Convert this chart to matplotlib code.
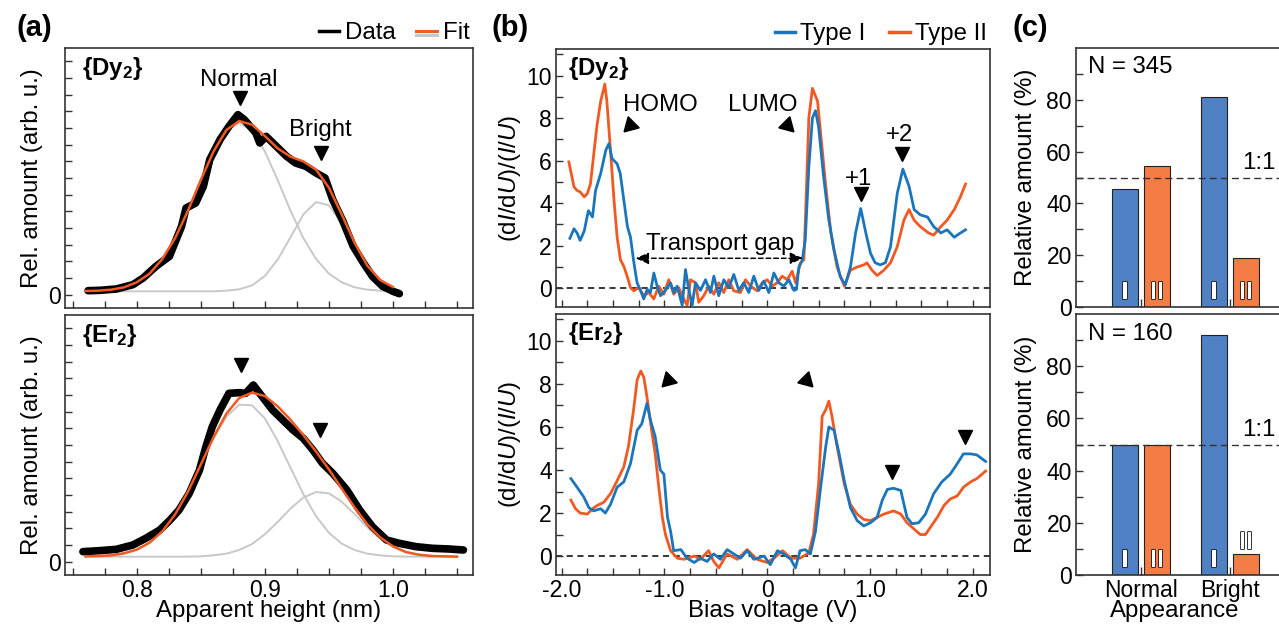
import matplotlib
matplotlib.use('Agg')
import matplotlib.pyplot as plt
import matplotlib.patheffects as pe
from matplotlib.lines import Line2D
from matplotlib.ticker import FixedLocator

plt.rcParams['font.family'] = ['Liberation Sans', 'DejaVu Sans']
plt.rcParams['mathtext.fontset'] = 'custom'
plt.rcParams['mathtext.rm'] = 'Liberation Sans'
plt.rcParams['mathtext.it'] = 'Liberation Sans:italic'
plt.rcParams['mathtext.bf'] = 'Liberation Sans:bold'
plt.rcParams['font.size'] = 17.3

# ---------- (a) height histograms ----------
dy_h = [0.762, 0.771, 0.784, 0.797, 0.805, 0.815, 0.8255, 0.835, 0.8385, 0.846,
        0.852, 0.857, 0.865, 0.872, 0.879, 0.884, 0.893, 0.896, 0.901, 0.909,
        0.917, 0.924, 0.932, 0.940, 0.947, 0.953, 0.961, 0.969, 0.977, 0.984,
        0.992, 1.000, 1.005]
dy_cnt = [0.12, 0.13, 0.17, 0.30, 0.5, 0.85, 1.15, 2.05, 2.6, 2.75,
          3.25, 4.05, 4.65, 5.05, 5.4, 5.25, 4.85, 4.55, 4.75, 4.45,
          4.15, 3.95, 3.85, 3.65, 3.5, 2.85, 2.2, 1.45, 0.95, 0.55,
          0.25, 0.1, 0.03]

er_h = [0.758, 0.771, 0.784, 0.797, 0.807, 0.818, 0.826, 0.833, 0.841, 0.849,
        0.854, 0.859, 0.865, 0.872, 0.880, 0.885, 0.891, 0.898, 0.906, 0.914,
        0.922, 0.930, 0.9375, 0.945, 0.953, 0.964, 0.974, 0.984, 0.995, 1.005,
        1.018, 1.031, 1.044, 1.055]
er_cnt = [0.3, 0.33, 0.37, 0.5, 0.7, 0.95, 1.25, 1.55, 2.05, 2.75,
          3.45, 4.05, 4.55, 5.05, 5.07, 5.05, 5.3, 4.95, 4.55, 4.25,
          3.95, 3.7, 3.35, 2.95, 2.65, 2.15, 1.55, 1.05, 0.65, 0.55,
          0.45, 0.4, 0.38, 0.35]

dy_fit_h = [0.76, 0.77, 0.78, 0.79, 0.80, 0.81, 0.82, 0.83, 0.84, 0.85,
            0.86, 0.87, 0.88, 0.89, 0.90, 0.91, 0.92, 0.93, 0.94, 0.95,
            0.96, 0.97, 0.98, 0.99, 1.00]
dy_normal = [0.11, 0.12, 0.15, 0.22, 0.37, 0.63, 1.07, 1.70, 2.52, 3.44,
             4.30, 4.92, 5.15, 4.92, 4.30, 3.44, 2.52, 1.70, 1.07, 0.63,
             0.37, 0.22, 0.15, 0.12, 0.11]
dy_bright = [0.10, 0.10, 0.10, 0.10, 0.10, 0.10, 0.10, 0.10, 0.10, 0.10,
             0.10, 0.12, 0.16, 0.28, 0.56, 1.05, 1.72, 2.40, 2.78, 2.68,
             2.14, 1.44, 0.82, 0.42, 0.22]
dy_fit = [0.11, 0.12, 0.15, 0.22, 0.37, 0.63, 1.07, 1.70, 2.52, 3.44,
          4.30, 4.94, 5.21, 5.10, 4.76, 4.39, 4.14, 4.00, 3.75, 3.21,
          2.41, 1.56, 0.87, 0.44, 0.23]

er_fit_h = [0.76, 0.77, 0.78, 0.79, 0.80, 0.81, 0.82, 0.83, 0.84, 0.85,
            0.86, 0.87, 0.88, 0.89, 0.90, 0.91, 0.92, 0.93, 0.94, 0.95,
            0.96, 0.97, 0.98, 0.99, 1.00, 1.01, 1.02, 1.03, 1.04, 1.05]
er_normal = [0.16, 0.17, 0.19, 0.25, 0.36, 0.57, 0.91, 1.42, 2.10, 2.90,
             3.70, 4.35, 4.71, 4.69, 4.30, 3.62, 2.82, 2.03, 1.36, 0.87,
             0.54, 0.35, 0.24, 0.19, 0.16, 0.15, 0.15, 0.15, 0.15, 0.15]
er_bright = [0.15, 0.15, 0.15, 0.15, 0.15, 0.15, 0.15, 0.15, 0.15, 0.16,
             0.19, 0.24, 0.35, 0.53, 0.82, 1.19, 1.59, 1.92, 2.09, 2.05,
             1.80, 1.43, 1.03, 0.69, 0.45, 0.29, 0.21, 0.17, 0.16, 0.15]
er_fit = [0.16, 0.17, 0.19, 0.25, 0.36, 0.57, 0.91, 1.42, 2.10, 2.91,
          3.74, 4.44, 4.91, 5.07, 4.97, 4.66, 4.26, 3.80, 3.30, 2.77,
          2.19, 1.63, 1.12, 0.73, 0.46, 0.29, 0.21, 0.17, 0.16, 0.15]

# ---------- (b) spectra ----------
dy_v_I = [-1.92, -1.88, -1.85, -1.82, -1.78, -1.74, -1.70, -1.67, -1.62, -1.57,
          -1.54, -1.51, -1.46, -1.43, -1.395, -1.36, -1.33, -1.30,
          -1.266, -1.233, -1.201, -1.168, -1.136, -1.103, -1.071, -1.038, -0.99, -0.941,
          -0.909, -0.876, -0.827, -0.795, -0.763, -0.73, -0.698, -0.649, -0.6, -0.552,
          -0.519, -0.471, -0.422, -0.374, -0.325, -0.276, -0.228, -0.179, -0.13, -0.082,
          -0.033, 0.016, 0.065, 0.113, 0.162, 0.211, 0.259, 0.285, 0.308,
          0.34, 0.37, 0.405, 0.44, 0.47, 0.50, 0.55, 0.60, 0.65, 0.71, 0.76, 0.81, 0.86,
          0.91, 0.96, 1.005, 1.05, 1.10, 1.15, 1.20, 1.265, 1.32, 1.38, 1.43, 1.49, 1.56,
          1.62, 1.69, 1.75, 1.82, 1.88, 1.93]
dy_s_I = [2.35, 2.8, 2.6, 2.25, 2.7, 3.65, 3.35, 4.6, 5.4, 6.5,
          6.8, 6.1, 5.85, 5.4, 4.15, 2.9, 2.4, 1.3,
          0.26, -0.1, -0.5, -0.05, -0.2, 0.72, 0.1, -0.35, -0.1, 0.26,
          -0.2, 0.1, -0.8, 0.88, -0.05, -0.8, 0.26, -0.1, 0.4, -0.2,
          0.57, -0.35, 0.4, 0.03, 0.65, -0.1, 0.26, -0.2, 0.57, -0.1,
          0.34, -0.2, 0.72, 0.26, 0.1, 0.4, -0.1, -0.05, 1.0,
          1.3, 2.25, 5.7, 8.0, 8.35, 7.6, 5.2, 3.2, 1.8, 0.55, 0.15, 1.0, 2.6,
          3.75, 2.6, 1.65, 1.2, 1.1, 1.2, 1.95, 4.45, 5.6, 4.8, 3.7, 3.45, 3.35,
          2.9, 2.6, 2.75, 2.4, 2.6, 2.75]

dy_v_II = [-1.93, -1.88, -1.85, -1.82, -1.78, -1.75, -1.72, -1.69, -1.655, -1.62,
           -1.58, -1.56, -1.525, -1.49,
           -1.46, -1.428, -1.395, -1.363, -1.33, -1.298, -1.25, -1.201, -1.152, -1.103,
           -1.055, -1.006, -0.958, -0.909, -0.86, -0.812, -0.779, -0.746, -0.698, -0.666,
           -0.617, -0.568, -0.519, -0.471, -0.422, -0.374, -0.325, -0.26, -0.211, -0.162,
           -0.097, -0.049, 0.0, 0.049, 0.097, 0.146, 0.195, 0.243, 0.276, 0.324, 0.357,
           0.373, 0.405, 0.44, 0.49, 0.52, 0.57, 0.62, 0.68, 0.75, 0.81, 0.875, 0.94,
           0.97, 1.02, 1.07, 1.135, 1.20, 1.265, 1.33, 1.38, 1.43, 1.49, 1.57, 1.62,
           1.69, 1.75, 1.82, 1.88, 1.93]
dy_s_II = [5.94, 4.77, 4.6, 4.53, 4.3, 4.45, 4.9, 6.2, 7.7, 8.8,
           9.6, 8.8, 6.5, 4.1,
           2.4, 1.34, 1.03, 0.57, 0.03, -0.12, 0.03, -0.35, -0.2, -0.5,
           0.1, -0.28, 0.4, -0.28, 0.03, -0.5, -0.8, 0.4, 0.26, -0.66,
           -0.35, 0.1, -0.28, 0.26, -0.2, 0.4, -0.12, -0.2, 0.4, 0.1,
           -0.12, 0.26, 0.4, 0.1, 0.26, 0.57, 0.4, 0.8, 0.26, 1.2, 1.34,
           3.4, 8.0, 9.4, 8.8, 7.3, 4.8, 2.6, 1.0, 0.1, 0.85, 1.0, 1.1,
           1.2, 0.85, 0.6, 0.85, 1.2, 1.95, 3.2, 3.7, 3.2, 2.9, 2.6, 2.5,
           2.9, 3.2, 3.7, 4.3, 4.9]

er_v_I = [-1.91, -1.85, -1.785, -1.735, -1.69, -1.62, -1.575, -1.525, -1.46, -1.395,
          -1.33, -1.265, -1.22, -1.17, -1.135, -1.09, -1.04, -1.005, -0.97, -0.94,
          -0.91, -0.84, -0.78, -0.71, -0.65, -0.585, -0.52, -0.455, -0.39, -0.325,
          -0.26, -0.195, -0.13, -0.03, 0.03, 0.10, 0.16, 0.23, 0.275, 0.32,
          0.37, 0.42, 0.47, 0.52, 0.57, 0.60, 0.65, 0.70, 0.75, 0.81,
          0.875, 0.94, 1.005, 1.07, 1.12, 1.17, 1.23, 1.30, 1.36, 1.41,
          1.475, 1.54, 1.62, 1.70, 1.78, 1.85, 1.91, 1.98, 2.04, 2.125]
er_s_I = [3.6, 3.2, 2.75, 2.25, 2.1, 2.2, 2.0, 2.4, 3.2, 3.45,
          4.3, 5.85, 6.15, 7.1, 6.3, 5.55, 4.0, 3.8, 1.8, 1.15,
          0.25, 0.3, -0.1, -0.3, -0.1, -0.25, 0.1, -0.15, 0.3, 0.1,
          -0.1, 0.25, -0.15, 0.0, -0.4, 0.25, 0.1, -0.15, -0.55, 0.25,
          0.3, 0.1, 1.15, 3.2, 5.1, 6.0, 5.85, 4.75, 3.5, 2.25,
          1.65, 1.4, 1.55, 1.8, 2.6, 3.1, 3.15, 3.05, 1.8, 1.5,
          1.55, 1.95, 2.9, 3.45, 3.8, 4.3, 4.75, 4.75, 4.7, 4.4]

er_v_II = [-1.91, -1.865, -1.82, -1.75, -1.70, -1.655, -1.59, -1.525, -1.46, -1.395,
           -1.35, -1.30, -1.265, -1.23, -1.20, -1.17, -1.12, -1.09, -1.055, -1.02,
           -0.99, -0.94, -0.875, -0.81, -0.71, -0.65, -0.57, -0.52, -0.47, -0.39,
           -0.29, -0.195, -0.10, 0.0, 0.065, 0.15, 0.23, 0.32, 0.405, 0.45,
           0.50, 0.535, 0.57, 0.60, 0.63, 0.68, 0.75, 0.81, 0.875, 0.94,
           1.005, 1.07, 1.135, 1.23, 1.30, 1.36, 1.43, 1.49, 1.54, 1.59,
           1.655, 1.72, 1.78, 1.85, 1.91, 1.98, 2.04, 2.125]
er_s_II = [2.6, 2.2, 2.0, 1.95, 2.2, 2.35, 2.5, 2.9, 3.5, 4.15,
           5.1, 6.8, 8.2, 8.6, 8.3, 7.4, 5.7, 4.75, 3.2, 1.8,
           1.0, 0.25, -0.1, -0.15, 0.0, -0.15, 0.25, -0.25, -0.55, 0.1,
           -0.15, 0.3, -0.15, -0.3, -0.1, 0.25, -0.1, -0.1, 0.15, 1.0,
           3.35, 6.5, 6.8, 7.2, 6.5, 5.1, 3.35, 2.4, 1.95, 1.7,
           1.65, 1.8, 1.95, 2.1, 1.95, 1.55, 1.25, 1.0, 1.0, 1.35,
           1.8, 2.35, 2.65, 2.8, 3.2, 3.45, 3.6, 3.95]

# ---------- (c) statistics ----------
appearance = ['Normal', 'Bright']
dy_type_I = [45.5, 81.2]
dy_type_II = [54.5, 18.8]
er_type_I = [50.0, 91.9]
er_type_II = [50.0, 8.1]
n_dy, n_er = 345, 160

BLUE = '#1b75bc'
ORANGE = '#f05a22'
BAR_BLUE = '#4f81c4'
BAR_ORANGE = '#f47c45'
GREY = '#c8c8c8'
SPINE = '#333333'
TICK_FS = 16.5

fig = plt.figure(figsize=(12.79, 6.25), dpi=100)


def box(l, t, r, b):
    return [l / 1279, 1 - b / 625, (r - l) / 1279, (b - t) / 625]


axa1 = fig.add_axes(box(65, 48, 473, 308))
axa2 = fig.add_axes(box(65, 315, 473, 575))
axb1 = fig.add_axes(box(556, 49, 990, 307))
axb2 = fig.add_axes(box(556, 314, 990, 575))
axc1 = fig.add_axes(box(1076, 48, 1283, 307))
axc2 = fig.add_axes(box(1076, 314, 1283, 575))


def style(ax):
    for s in ax.spines.values():
        s.set_color(SPINE)
        s.set_linewidth(1.2)
    ax.tick_params(which='both', direction='in', top=False, right=False,
                   width=1, color=SPINE, length=5, pad=3, labelsize=TICK_FS)


for ax in (axa1, axa2, axb1, axb2, axc1, axc2):
    style(ax)

# ---- panel (a)
for ax, h, c, fh, g1, g2, fit, name in (
        (axa1, dy_h, dy_cnt, dy_fit_h, dy_normal, dy_bright, dy_fit, 'Dy'),
        (axa2, er_h, er_cnt, er_fit_h, er_normal, er_bright, er_fit, 'Er')):
    ax.plot(fh, g1, color=GREY, lw=1.4)
    ax.plot(fh, g2, color=GREY, lw=1.4)
    ax.plot(h, c, color='black', lw=5.5, solid_capstyle='round', solid_joinstyle='round')
    ax.plot(fh, fit, color=ORANGE, lw=1.8)
    ax.set_xlim(0.744, 1.0625)
    ax.set_ylim(-0.4, 7.4)
    ax.xaxis.set_major_locator(FixedLocator([0.8, 0.9, 1.0]))
    ax.xaxis.set_minor_locator(FixedLocator([0.75, 0.775, 0.825, 0.85, 0.875, 0.925,
                                             0.95, 0.975, 1.025, 1.05]))
    ax.yaxis.set_major_locator(FixedLocator([0, 1, 2, 3, 4, 5, 6, 7]))
    ax.yaxis.set_minor_locator(FixedLocator([0.5, 1.5, 2.5, 3.5, 4.5, 5.5, 6.5]))
    ax.set_yticklabels(['0', '', '', '', '', '', '', ''])
    ax.set_ylabel('Rel. amount (arb. u.)')
    ax.yaxis.set_label_coords(-0.054, 0.5)
    ax.text(0.042, 0.923, '{%s$_\\mathbf{2}$}' % name, transform=ax.transAxes,
            fontweight='bold', ha='left', va='center')

axa1.tick_params(labelbottom=False)
axa2.set_xticklabels(['0.8', '0.9', '1.0'])
axa2.set_xlabel('Apparent height (nm)')
axa2.xaxis.set_label_coords(0.5, -0.095)

axa1.text(0.880, 6.45, 'Normal', ha='center', va='center')
axa1.plot(0.881, 5.9, marker='v', color='black', ms=9.5)
axa1.text(0.943, 4.95, 'Bright', ha='center', va='center')
axa1.plot(0.9435, 4.25, marker='v', color='black', ms=9.5)
axa2.plot(0.8815, 5.9, marker='v', color='black', ms=9.5)
axa2.plot(0.943, 3.95, marker='v', color='black', ms=9.5)

fit_handle = Line2D([], [], color=ORANGE, lw=2.2,
                    path_effects=[pe.SimpleLineShadow(offset=(0, -3), shadow_color=GREY, alpha=1),
                                  pe.Normal()])
axa1.legend([Line2D([], [], color='black', lw=2.5), fit_handle], ['Data', 'Fit'],
            loc='lower right', bbox_to_anchor=(1.0, 1.0), ncol=2, frameon=False,
            handlelength=0.85, handletextpad=0.25, columnspacing=0.85,
            borderaxespad=0.0, borderpad=0.15)

# ---- panel (b)
for ax, v1, s1, v2, s2, name in ((axb1, dy_v_I, dy_s_I, dy_v_II, dy_s_II, 'Dy'),
                                 (axb2, er_v_I, er_s_I, er_v_II, er_s_II, 'Er')):
    ax.axhline(0, color='black', lw=1.1, ls=(0, (4, 3)), zorder=1)
    ax.plot(v2, s2, color=ORANGE, lw=2, zorder=2)
    ax.plot(v1, s1, color=BLUE, lw=2, zorder=3)
    ax.set_xlim(-2.055, 2.168)
    ax.set_ylim(-0.88, 11.25)
    ax.xaxis.set_major_locator(FixedLocator([-2, -1, 0, 1, 2]))
    ax.xaxis.set_minor_locator(FixedLocator([-1.75, -1.5, -1.25, -0.75, -0.5, -0.25,
                                             0.25, 0.5, 0.75, 1.25, 1.5, 1.75]))
    ax.yaxis.set_major_locator(FixedLocator([0, 2, 4, 6, 8, 10]))
    ax.yaxis.set_minor_locator(FixedLocator([1, 3, 5, 7, 9, 11]))
    ax.set_ylabel(r'(d$\mathit{I}$/d$\mathit{U}$)/($\mathit{I}$/$\mathit{U}$)')
    ax.yaxis.set_label_coords(-0.076, 0.5)
    ax.text(0.028, 0.924, '{%s$_\\mathbf{2}$}' % name, transform=ax.transAxes,
            fontweight='bold', ha='left', va='center')

axb1.tick_params(labelbottom=False)
axb2.set_xticklabels(['-2.0', '-1.0', '0', '1.0', '2.0'])
axb2.set_xlabel('Bias voltage (V)')
axb2.xaxis.set_label_coords(0.5, -0.095)

axb1.text(-1.04, 8.64, 'HOMO', ha='center', va='center')
axb1.text(-0.04, 8.64, 'LUMO', ha='center', va='center')
axb1.plot(-1.337, 7.66, marker=(3, 0, 15), color='black', ms=13)
axb1.plot(0.195, 7.66, marker=(3, 0, -15), color='black', ms=13)
axb1.text(0.89, 5.16, '+1', ha='center', va='center')
axb1.plot(0.91, 4.45, marker='v', color='black', ms=9.5)
axb1.text(1.29, 7.19, '+2', ha='center', va='center')
axb1.plot(1.31, 6.33, marker='v', color='black', ms=9.5)
axb1.text(-0.454, 2.1, 'Transport gap', ha='center', va='center')
axb1.annotate('', xy=(-1.28, 1.41), xytext=(0.35, 1.41),
              arrowprops=dict(arrowstyle='<|-|>,head_length=0.45,head_width=0.2',
                              color='black', lw=1.1, ls=(0, (3, 2)),
                              shrinkA=0, shrinkB=0))

axb2.plot(-0.967, 8.2, marker=(3, 0, 15), color='black', ms=13)
axb2.plot(0.373, 8.2, marker=(3, 0, -15), color='black', ms=13)
axb2.plot(1.217, 3.9, marker='v', color='black', ms=9.5)
axb2.plot(1.92, 5.55, marker='v', color='black', ms=9.5)

axb1.legend([Line2D([], [], color=BLUE, lw=2.5), Line2D([], [], color=ORANGE, lw=2.5)],
            ['Type I', 'Type II'], loc='lower right', bbox_to_anchor=(1.0, 1.0), ncol=2,
            frameon=False, handlelength=0.85, handletextpad=0.2, columnspacing=1.0,
            borderaxespad=0.0, borderpad=0.15)

# ---- panel (c)
xpos = [0, 1]
for ax, t1, t2, n in ((axc1, dy_type_I, dy_type_II, n_dy), (axc2, er_type_I, er_type_II, n_er)):
    x1 = [p - 0.18 for p in xpos]
    x2 = [p + 0.18 for p in xpos]
    ax.bar(x1, t1, width=0.29, color=BAR_BLUE, edgecolor='#222222', linewidth=0.8, zorder=2)
    ax.bar(x2, t2, width=0.29, color=BAR_ORANGE, edgecolor='#222222', linewidth=0.8, zorder=2)
    ax.axhline(50, color='#333333', lw=1, ls=(0, (5, 3)), zorder=3)
    ax.text(1.515, 55.5, '1:1', ha='right', va='center')
    ax.set_xlim(-0.73, 1.596)
    ax.set_ylim(0, 100)
    ax.set_xticks(xpos)
    ax.tick_params(axis='x', length=6)
    ax.yaxis.set_major_locator(FixedLocator([0, 20, 40, 60, 80]))
    ax.yaxis.set_minor_locator(FixedLocator([10, 30, 50, 70, 90]))
    ax.set_ylabel('Relative amount (%)')
    ax.yaxis.set_label_coords(-0.188, 0.5)
    ax.text(0.058, 0.925, 'N = %d' % n, transform=ax.transAxes, ha='left', va='center')
    for i, p in enumerate(xpos):
        ax.text(x1[i], 5.8, 'I', ha='center', va='center', color='white',
                fontweight='bold', fontsize=18, zorder=4,
                path_effects=[pe.withStroke(linewidth=1.3, foreground='#222222')])
        y2 = 5.8 if t2[i] > 12 else t2[i] + 4.6
        ax.text(x2[i], y2, 'II', ha='center', va='center', color='white',
                fontweight='bold', fontsize=18, zorder=4,
                path_effects=[pe.withStroke(linewidth=1.3, foreground='#222222')])

axc1.tick_params(labelbottom=False)
axc2.set_xticklabels(appearance)
axc2.set_xlabel('Appearance')
axc2.xaxis.set_label_coords(0.478, -0.095)

for x, lab in ((17, '(a)'), (492, '(b)'), (1013, '(c)')):
    fig.text(x / 1279, 1 - 28 / 625, lab, ha='left', va='center',
             fontsize=21, fontweight='bold')

fig.savefig('out.png', dpi=100)
